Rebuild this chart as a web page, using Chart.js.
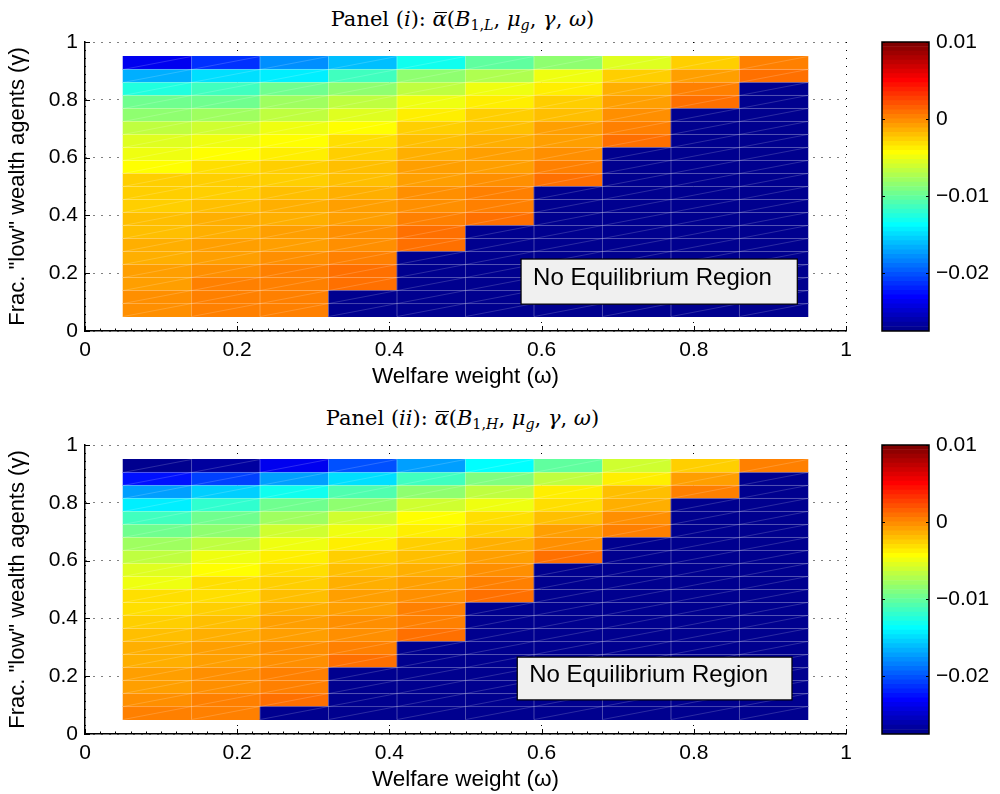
<!DOCTYPE html>
<html>
<head>
<meta charset="utf-8">
<script src="https://cdn.jsdelivr.net/npm/chart.js@4.4.1/dist/chart.umd.min.js"></script>
<style>
  html, body { margin: 0; padding: 0; background: #fff; overflow: hidden; }
  #fig { position: relative; width: 1000px; height: 794px; }
  #fig canvas { position: absolute; }
  .ttl { position: absolute; left: 0; width: 925px; text-align: center; white-space: nowrap;
         font-family: "DejaVu Serif", "Liberation Serif", serif; font-size: 21px; line-height: 24px; color: #000; }
  .ttl sub { font-size: 68%; line-height: 0; vertical-align: -4px; }
  .ov { position: relative; display: inline-block; }
  .ov::before { content: ""; position: absolute; left: 2px; right: 0; top: 5px; border-top: 1.3px solid #000; }
</style>
</head>
<body>
<div id="fig">
  <div class="ttl" style="top:7px">Panel (<i>i</i>): <span class="ov"><i>α</i></span>(<i>B</i><sub>1,<i>L</i></sub>, <i>μ<sub>g</sub></i>, <i>γ</i>, <i>ω</i>)</div>
  <div class="ttl" style="top:406px">Panel (<i>ii</i>): <span class="ov"><i>α</i></span>(<i>B</i><sub>1,<i>H</i></sub>, <i>μ<sub>g</sub></i>, <i>γ</i>, <i>ω</i>)</div>
  <canvas id="heat1" width="870" height="391" style="left:0;top:0"></canvas>
  <canvas id="bar1" width="130" height="391" style="left:870px;top:0"></canvas>
  <canvas id="heat2" width="870" height="391" style="left:0;top:403px"></canvas>
  <canvas id="bar2" width="130" height="391" style="left:870px;top:403px"></canvas>
</div>
<script>
// cell edges: welfare weight (omega) and fraction of low wealth agents (gamma)
const omegaEdges = [0.05, 0.14, 0.23, 0.32, 0.41, 0.50, 0.59, 0.68, 0.77, 0.86, 0.95];
const gammaEdges = [0.05, 0.095, 0.14, 0.185, 0.23, 0.275, 0.32, 0.365, 0.41, 0.455, 0.50,
                    0.545, 0.59, 0.635, 0.68, 0.725, 0.77, 0.815, 0.86, 0.905, 0.95];
const axisTicks = [0, 0.2, 0.4, 0.6, 0.8, 1];
const barTicks = [-0.02, -0.01, 0, 0.01];
const cMin = -0.0275, cMax = 0.01;

// alpha-bar values in units of 1e-3, one array per omega column, gamma rows bottom -> top
// null = no equilibrium
const unit = 1e-3;
const _ = null;
const alphaL = [
  [0.0, -0.2, -0.6, -0.95, -1.3, -1.5, -1.85, -2.2, -2.4, -2.5, -2.75, -4.1, -5.0, -5.6, -6.7, -8.3, -9.8, -12.7, -16.6, -23.4],
  [0.36, 0.36, 0.18, -0.2, -0.58, -0.95, -1.3, -1.66, -2.0, -2.4, -2.6, -2.9, -4.1, -5.2, -6.1, -8.0, -9.5, -11.2, -14.9, -21.3],
  [0.45, 0.45, 0.6, 0.1, -0.4, -0.58, -0.95, -1.3, -1.66, -2.0, -2.4, -2.75, -3.5, -4.25, -5.2, -6.9, -8.0, -9.9, -14.2, -18.1],
  [_, _, 0.9, 0.72, 0.36, 0.0, -0.4, -0.76, -1.1, -1.5, -1.85, -2.2, -2.75, -3.35, -4.1, -5.6, -6.9, -8.75, -11.6, -16.0],
  [_, _, _, _, _, 0.9, 0.72, 0.36, 0.0, -0.4, -0.76, -1.1, -1.5, -2.0, -2.75, -3.9, -5.0, -6.5, -8.75, -12.9],
  [_, _, _, _, _, _, _, 0.9, 0.55, 0.18, -0.2, -0.58, -0.95, -1.5, -2.0, -2.75, -3.5, -4.8, -7.1, -10.4],
  [_, _, _, _, _, _, _, _, _, _, 0.9, 0.18, -0.2, -0.58, -1.1, -1.85, -2.6, -3.5, -5.2, -8.4],
  [_, _, _, _, _, _, _, _, _, _, _, _, _, 0.72, 0.18, -0.2, -0.95, -1.66, -2.6, -5.4],
  [_, _, _, _, _, _, _, _, _, _, _, _, _, _, _, _, 0.9, 0.18, -0.95, -2.75],
  [_, _, _, _, _, _, _, _, _, _, _, _, _, _, _, _, _, _, 0.9, 0.18]
];
const alphaH = [
  [0.18, -0.2, -0.58, -0.95, -1.3, -1.66, -2.0, -2.6, -2.9, -3.35, -4.8, -5.4, -6.5, -8.0, -9.9, -11.6, -14.4, -17.3, -22.4, -27.5],
  [0.55, 0.18, 0.0, -0.4, -0.76, -1.1, -1.5, -1.85, -2.4, -2.9, -3.35, -4.1, -5.2, -6.5, -8.4, -9.7, -11.9, -15.5, -20.6, -26.8],
  [_, 0.72, 0.55, 0.18, 0.0, -0.4, -0.76, -1.1, -1.5, -1.85, -2.4, -3.1, -3.9, -4.8, -6.1, -8.0, -9.9, -12.9, -17.3, -23.4],
  [_, _, _, _, 0.72, 0.55, 0.0, -0.4, -0.76, -1.1, -1.66, -2.0, -2.75, -3.9, -4.8, -6.1, -8.4, -10.8, -14.7, -19.9],
  [_, _, _, _, _, _, 0.72, 0.55, 0.18, -0.2, -0.76, -1.3, -1.85, -2.75, -3.5, -4.6, -6.1, -8.75, -11.6, -17.0],
  [_, _, _, _, _, _, _, _, _, 0.72, 0.18, -0.2, -0.95, -1.66, -2.4, -3.1, -4.8, -6.5, -9.3, -14.0],
  [_, _, _, _, _, _, _, _, _, _, _, _, 0.72, -0.4, -1.1, -2.0, -2.9, -3.9, -6.5, -10.25],
  [_, _, _, _, _, _, _, _, _, _, _, _, _, _, 0.55, -0.4, -1.5, -2.2, -3.5, -6.1],
  [_, _, _, _, _, _, _, _, _, _, _, _, _, _, _, _, _, 0.36, -0.95, -2.6],
  [_, _, _, _, _, _, _, _, _, _, _, _, _, _, _, _, _, _, _, 0.18]
];

Chart.defaults.font.family = '"Liberation Sans", Arial, Helvetica, sans-serif';
Chart.defaults.font.size = 21;
Chart.defaults.color = '#000';

// MATLAB jet(64)
function jetIndex(i) {
  const r = i < 25 ? 0 : i <= 40 ? (i - 24) / 16 : i <= 56 ? 1 : (72 - i) / 16;
  const g = i < 9 ? 0 : i <= 24 ? (i - 8) / 16 : i <= 40 ? 1 : i <= 55 ? (56 - i) / 16 : 0;
  const b = i <= 8 ? (i + 8) / 16 : i <= 24 ? 1 : i <= 40 ? (40 - i) / 16 : 0;
  return 'rgb(' + Math.round(r * 255) + ',' + Math.round(g * 255) + ',' + Math.round(b * 255) + ')';
}
function jet(v) {
  if (v === null) return jetIndex(1);
  let k = Math.floor((v - cMin) / (cMax - cMin) * 64);
  k = Math.max(0, Math.min(63, k));
  return jetIndex(k + 1);
}

function heatDatasets(cols) {
  const sets = [];
  for (let r = 0; r < gammaEdges.length - 1; r++) {
    const pts = [], colors = [];
    for (let c = 0; c < omegaEdges.length - 1; c++) {
      const v = cols[c][r];
      pts.push({ x: (omegaEdges[c] + omegaEdges[c + 1]) / 2, y: [gammaEdges[r], gammaEdges[r + 1]] });
      colors.push(jet(v === null ? null : v * unit));
    }
    sets.push({ data: pts, backgroundColor: colors, borderWidth: 0, grouped: false,
                barPercentage: 1, categoryPercentage: 1 });
  }
  return sets;
}

// faint facet edges and diagonals like the surface render
const cellLines = {
  id: 'cellLines',
  afterDatasetsDraw(chart) {
    const ctx = chart.ctx;
    const n = chart.data.datasets.length;
    ctx.save();
    ctx.lineWidth = 1;
    for (let i = 0; i < n; i++) {
      const bars = chart.getDatasetMeta(i).data;
      bars.forEach((bar, j) => {
        const left = bar.x - bar.width / 2, right = bar.x + bar.width / 2;
        const top = Math.min(bar.y, bar.base), bottom = Math.max(bar.y, bar.base);
        ctx.strokeStyle = 'rgba(255,255,255,0.17)';
        ctx.beginPath(); ctx.moveTo(left, bottom); ctx.lineTo(right, top); ctx.stroke();
        ctx.strokeStyle = 'rgba(255,255,255,0.28)';
        ctx.beginPath();
        if (i < n - 1) { ctx.moveTo(left, top); ctx.lineTo(right, top); }
        if (j < bars.length - 1) { ctx.moveTo(right, top); ctx.lineTo(right, bottom); }
        ctx.stroke();
      });
    }
    ctx.restore();
  }
};

const noEqBox = {
  id: 'noEqBox',
  afterDatasetsDraw(chart, args, opts) {
    const { ctx, scales: { x, y } } = chart;
    const l = x.getPixelForValue(opts.x0), r = x.getPixelForValue(opts.x1);
    const t = y.getPixelForValue(opts.y1), b = y.getPixelForValue(opts.y0);
    ctx.save();
    ctx.fillStyle = '#f0f0f0';
    ctx.fillRect(l, t, r - l, b - t);
    ctx.strokeStyle = '#000';
    ctx.lineWidth = 1.2;
    ctx.strokeRect(l, t, r - l, b - t);
    ctx.fillStyle = '#000';
    ctx.font = '24px "Liberation Sans", Arial, sans-serif';
    ctx.textBaseline = 'alphabetic';
    ctx.fillText(opts.text, l + 12, (t + b) / 2 + 3);
    ctx.restore();
  }
};

const innerTicks = {
  id: 'innerTicks',
  afterDraw(chart) {
    const { ctx, chartArea: a, scales: { x, y } } = chart;
    ctx.save();
    ctx.strokeStyle = '#000';
    ctx.lineWidth = 1;
    ctx.beginPath();
    x.ticks.forEach((t, i) => {
      const px = Math.round(x.getPixelForValue(t.value)) + 0.5;
      ctx.moveTo(px, a.bottom); ctx.lineTo(px, a.bottom - 5);
      if (i < x.ticks.length - 1) {
        const step = (x.ticks[i + 1].value - t.value) / 10;
        for (let k = 1; k < 10; k++) {
          const mx = Math.round(x.getPixelForValue(t.value + k * step)) + 0.5;
          ctx.moveTo(mx, a.bottom); ctx.lineTo(mx, a.bottom - 2.5);
        }
      }
    });
    y.ticks.forEach(t => {
      const py = Math.round(y.getPixelForValue(t.value)) + 0.5;
      ctx.moveTo(a.left, py); ctx.lineTo(a.left + 5, py);
    });
    ctx.stroke();
    ctx.restore();
  }
};

function fmtAxis(v) { return String(Math.round(v * 10) / 10); }

function makeHeat(id, cols, box) {
  return new Chart(document.getElementById(id), {
    type: 'bar',
    data: { datasets: heatDatasets(cols) },
    options: {
      responsive: false,
      animation: false,
      events: [],
      layout: { padding: { left: 0, top: 42, right: 24, bottom: 0 } },
      plugins: { legend: { display: false }, tooltip: { enabled: false }, noEqBox: box },
      scales: {
        x: {
          type: 'linear', min: 0, max: 1, offset: false,
          afterBuildTicks: s => { s.ticks = axisTicks.map(v => ({ value: v })); },
          afterFit: s => { s.height = 60; },
          ticks: { padding: 7, maxRotation: 0, callback: v => fmtAxis(v) },
          grid: { offset: false, drawTicks: false, color: '#000', lineWidth: 1 },
          border: { display: true, color: '#000', width: 1.5, dash: [1, 7] },
          title: { display: true, text: 'Welfare weight (\u03c9)', font: { size: 22.5 }, padding: { top: 0, bottom: 1 } }
        },
        y: {
          type: 'linear', min: 0, max: 1,
          afterBuildTicks: s => { s.ticks = axisTicks.map(v => ({ value: v })); },
          afterFit: s => { s.width = 85; },
          ticks: { padding: 7, callback: v => fmtAxis(v) },
          grid: { drawTicks: false, color: '#000', lineWidth: 1 },
          border: { display: true, color: '#000', width: 1.5, dash: [1, 7] },
          title: { display: true, text: 'Frac. "low" wealth agents (\u03b3)', font: { size: 22 }, padding: { top: 5, bottom: 0 } }
        }
      }
    },
    plugins: [cellLines, noEqBox, innerTicks]
  });
}

// colour bar: 64 bands of jet
const bandEdges = [];
for (let k = 0; k <= 64; k++) bandEdges.push(cMin + (cMax - cMin) * k / 64);

const barFrame = {
  id: 'barFrame',
  afterDraw(chart) {
    const { ctx, chartArea: a, scales: { y } } = chart;
    ctx.save();
    ctx.strokeStyle = '#000';
    ctx.lineWidth = 1.5;
    ctx.strokeRect(a.left, a.top, a.right - a.left, a.bottom - a.top);
    ctx.lineWidth = 1;
    ctx.beginPath();
    y.ticks.forEach(t => {
      const py = Math.round(y.getPixelForValue(t.value)) + 0.5;
      ctx.moveTo(a.left, py); ctx.lineTo(a.left + 3, py);
      ctx.moveTo(a.right, py); ctx.lineTo(a.right - 3, py);
    });
    ctx.stroke();
    ctx.restore();
  }
};

function fmtBar(v) {
  if (Math.abs(v) < 1e-9) return '0';
  return (v < 0 ? '\u2212' : '') + Math.abs(v).toFixed(2);
}

function makeBar(id) {
  const sets = [];
  for (let k = 0; k < 64; k++) {
    sets.push({ data: [[bandEdges[k], bandEdges[k + 1]]], backgroundColor: jetIndex(k + 1),
                borderWidth: 0, grouped: false, barPercentage: 1, categoryPercentage: 1 });
  }
  return new Chart(document.getElementById(id), {
    type: 'bar',
    data: { labels: [''], datasets: sets },
    options: {
      responsive: false,
      animation: false,
      events: [],
      layout: { padding: { left: 12, top: 42, right: 0, bottom: 60 } },
      plugins: { legend: { display: false }, tooltip: { enabled: false } },
      scales: {
        x: { display: false },
        y: {
          position: 'right', min: cMin, max: cMax,
          afterBuildTicks: s => { s.ticks = barTicks.map(v => ({ value: v })); },
          afterFit: s => { s.width = 71; },
          ticks: { padding: 7, callback: v => fmtBar(v) },
          grid: { display: false, drawTicks: false },
          border: { display: false }
        }
      }
    },
    plugins: [barFrame]
  });
}

makeHeat('heat1', alphaL, { x0: 0.573, x1: 0.936, y0: 0.093, y1: 0.249, text: 'No Equilibrium Region' });
makeHeat('heat2', alphaH, { x0: 0.568, x1: 0.929, y0: 0.118, y1: 0.266, text: 'No Equilibrium Region' });
makeBar('bar1');
makeBar('bar2');
</script>
</body>
</html>
